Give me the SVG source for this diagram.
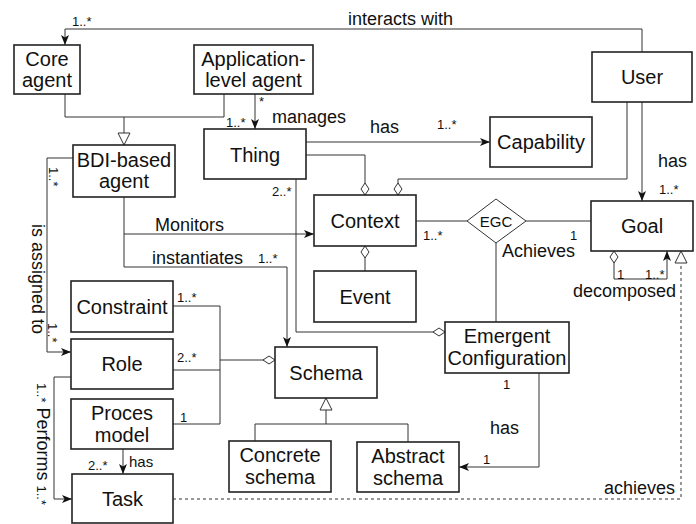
<svg xmlns="http://www.w3.org/2000/svg" width="696" height="524" viewBox="0 0 696 524">
  <style>
    text { font-family: "Liberation Sans", Arial, Helvetica, sans-serif; fill: #111; }
    .box { fill: #fff; stroke: #222; stroke-width: 1.6; }
    .nt { font-size: 20px; text-anchor: middle; }
    .lbl { font-size: 18px; }
    .m { font-size: 13px; }
    .ln { fill: none; stroke: #333; stroke-width: 1; }
    .dash { stroke-dasharray: 3 3; }
  </style>
  <defs>
    <marker id="arr" viewBox="0 0 10 8" refX="10" refY="4" markerWidth="10" markerHeight="8" markerUnits="userSpaceOnUse" orient="auto">
      <path d="M0,0 L10,4 L0,8 L2.5,4 Z" fill="#111"/>
    </marker>
    <marker id="dia" viewBox="-1 -1 14 10" refX="12" refY="4" markerWidth="14" markerHeight="10" markerUnits="userSpaceOnUse" orient="auto">
      <path d="M0,4 L6,0 L12,4 L6,8 Z" fill="#fff" stroke="#333" stroke-width="1"/>
    </marker>
    <marker id="diaS" viewBox="-1 -1 14 10" refX="0" refY="4" markerWidth="14" markerHeight="10" markerUnits="userSpaceOnUse" orient="auto">
      <path d="M0,4 L6,0 L12,4 L6,8 Z" fill="#fff" stroke="#333" stroke-width="1"/>
    </marker>
    <marker id="tri" viewBox="-1 -1 14 14" refX="12" refY="6" markerWidth="14" markerHeight="14" markerUnits="userSpaceOnUse" orient="auto">
      <path d="M0,0 L12,6 L0,12 Z" fill="#fff" stroke="#333" stroke-width="1"/>
    </marker>
  </defs>

  <!-- connectors -->
  <g id="connectors">
    <!-- User interacts with Core agent -->
    <path class="ln" d="M642,52 V29 H65 V45" marker-end="url(#arr)"/>
    <text class="lbl" x="348" y="25">interacts with</text>
    <text class="m" x="72" y="26">1..*</text>

    <!-- agents specialise BDI-based agent -->
    <path class="ln" d="M65,94 V117 H224 V94"/>
    <path class="ln" d="M124,117 V145" marker-end="url(#tri)"/>

    <!-- manages -->
    <path class="ln" d="M255,94 V129" marker-end="url(#arr)"/>
    <text class="m" x="259" y="106">*</text>
    <text class="m" x="226" y="127">1..*</text>
    <text class="lbl" x="272" y="123">manages</text>

    <!-- Thing has Capability -->
    <path class="ln" d="M306,142 H490" marker-end="url(#arr)"/>
    <text class="lbl" x="370" y="133">has</text>
    <text class="m" x="437" y="129">1..*</text>

    <!-- Thing / User aggregated into Context -->
    <path class="ln" d="M306,155 H365 V195" marker-end="url(#dia)"/>
    <path class="ln" d="M627,102 V179 H398 V195" marker-end="url(#dia)"/>

    <!-- User has Goal -->
    <path class="ln" d="M642,102 V201" marker-end="url(#arr)"/>
    <text class="lbl" x="658" y="167">has</text>
    <text class="m" x="659" y="194">1..*</text>

    <!-- BDI monitors Context / instantiates Schema -->
    <path class="ln" d="M124,197 V234 H314" marker-end="url(#arr)"/>
    <text class="lbl" x="155" y="231">Monitors</text>
    <path class="ln" d="M124,234 V267 H287 V347" marker-end="url(#arr)"/>
    <text class="lbl" x="152" y="264">instantiates</text>
    <text class="m" x="258" y="263">1..*</text>

    <!-- Thing aggregated into Emergent Configuration -->
    <path class="ln" d="M296,179 V332 H445" marker-end="url(#dia)"/>
    <text class="m" x="272" y="196">2..*</text>

    <!-- EGC association -->
    <path class="ln" d="M416,221 H467"/>
    <path class="ln" d="M526,221 H591"/>
    <path class="ln" d="M496,243 V322"/>
    <text class="m" x="423" y="240">1..*</text>
    <text class="m" x="570" y="240">1</text>
    <text class="lbl" x="502" y="257">Achieves</text>

    <!-- Event aggregated into Context -->
    <path class="ln" d="M365,271 V246" marker-end="url(#dia)"/>

    <!-- Goal decomposed -->
    <path class="ln" d="M614,251 V279 H667 V251" marker-start="url(#diaS)" marker-end="url(#arr)"/>
    <text class="m" x="617" y="279">1</text>
    <text class="m" x="645" y="279">1..*</text>
    <text class="lbl" x="573" y="297">decomposed</text>

    <!-- Task achieves Goal -->
    <path class="ln dash" d="M173,499 H681 V251" marker-end="url(#tri)"/>
    <text class="lbl" x="604" y="494">achieves</text>

    <!-- BDI is assigned to Role -->
    <path class="ln" d="M73,158 H47 V352 H71" marker-end="url(#arr)"/>
    <text class="lbl" text-anchor="middle" transform="translate(32,279) rotate(90)">is assigned to</text>
    <text class="m" transform="translate(49,167) rotate(90)">1..*</text>
    <text class="m" transform="translate(48,323) rotate(90)">1..*</text>

    <!-- Role performs Task -->
    <path class="ln" d="M71,377 H54 V499 H72" marker-end="url(#arr)"/>
    <text transform="translate(37,383) rotate(90)"><tspan class="m">1..*</tspan><tspan class="lbl"> Performs </tspan><tspan class="m">1..*</tspan></text>

    <!-- Proces model has Task -->
    <path class="ln" d="M123,449 V474" marker-end="url(#arr)"/>
    <text class="m" x="88" y="470">2..*</text>
    <text x="129" y="467" font-size="15">has</text>

    <!-- Constraint / Role / Proces model aggregated into Schema -->
    <path class="ln" d="M173,306 H220 V424 H173"/>
    <path class="ln" d="M173,370 H220"/>
    <path class="ln" d="M220,360 H275" marker-end="url(#dia)"/>
    <text class="m" x="177" y="302">1..*</text>
    <text class="m" x="177" y="362">2..*</text>
    <text class="m" x="180" y="422">1</text>

    <!-- Emergent Configuration has Abstract schema -->
    <path class="ln" d="M539,373 V467 H459" marker-end="url(#arr)"/>
    <text class="m" x="503" y="389">1</text>
    <text class="lbl" x="490" y="434">has</text>
    <text class="m" x="483" y="464">1</text>

    <!-- Schema specialisations -->
    <path class="ln" d="M255,441 V424 H408 V442"/>
    <path class="ln" d="M326,424 V398" marker-end="url(#tri)"/>
  </g>

  <!-- nodes -->
  <g id="core-agent">
    <rect class="box" x="14" y="45" width="66" height="49"/>
    <text class="nt" x="47" y="66">Core</text>
    <text class="nt" x="47" y="87">agent</text>
  </g>
  <g id="application-agent">
    <rect class="box" x="194" y="45" width="119" height="49"/>
    <text class="nt" x="253.5" y="66">Application-</text>
    <text class="nt" x="253.5" y="87">level agent</text>
  </g>
  <g id="user">
    <rect class="box" x="592" y="52" width="100" height="50"/>
    <text class="nt" x="642" y="84">User</text>
  </g>
  <g id="bdi-agent">
    <rect class="box" x="73" y="145" width="102" height="52"/>
    <text class="nt" x="124" y="167">BDI-based</text>
    <text class="nt" x="124" y="188">agent</text>
  </g>
  <g id="thing">
    <rect class="box" x="204" y="129" width="102" height="50"/>
    <text class="nt" x="255" y="161.5">Thing</text>
  </g>
  <g id="capability">
    <rect class="box" x="490" y="117" width="102" height="50"/>
    <text class="nt" x="541" y="149">Capability</text>
  </g>
  <g id="context">
    <rect class="box" x="314" y="195" width="102" height="51"/>
    <text class="nt" x="365" y="228">Context</text>
  </g>
  <g id="egc">
    <polygon points="467,221 496,199 526,221 496,243" fill="#fff" stroke="#333" stroke-width="1"/>
    <text x="496" y="226.5" font-size="15" text-anchor="middle">EGC</text>
  </g>
  <g id="goal">
    <rect class="box" x="591" y="201" width="102" height="50"/>
    <text class="nt" x="642" y="233">Goal</text>
  </g>
  <g id="event">
    <rect class="box" x="314" y="271" width="102" height="51"/>
    <text class="nt" x="365" y="304">Event</text>
  </g>
  <g id="emergent-configuration">
    <rect class="box" x="445" y="322" width="124" height="51"/>
    <text class="nt" x="507" y="343">Emergent</text>
    <text class="nt" x="507" y="364.5">Configuration</text>
  </g>
  <g id="constraint">
    <rect class="box" x="71" y="281" width="102" height="51"/>
    <text class="nt" x="122" y="313.5">Constraint</text>
  </g>
  <g id="role">
    <rect class="box" x="71" y="339" width="102" height="50"/>
    <text class="nt" x="122" y="371">Role</text>
  </g>
  <g id="proces-model">
    <rect class="box" x="71" y="399" width="102" height="50"/>
    <text class="nt" x="122" y="420">Proces</text>
    <text class="nt" x="122" y="441.5">model</text>
  </g>
  <g id="task">
    <rect class="box" x="72" y="474" width="101" height="49"/>
    <text class="nt" x="122.5" y="506">Task</text>
  </g>
  <g id="schema">
    <rect class="box" x="275" y="347" width="102" height="51"/>
    <text class="nt" x="326" y="380">Schema</text>
  </g>
  <g id="concrete-schema">
    <rect class="box" x="229" y="441" width="102" height="51"/>
    <text class="nt" x="280" y="462">Concrete</text>
    <text class="nt" x="280" y="483.5">schema</text>
  </g>
  <g id="abstract-schema">
    <rect class="box" x="357" y="442" width="102" height="50"/>
    <text class="nt" x="408" y="463">Abstract</text>
    <text class="nt" x="408" y="484.5">schema</text>
  </g>
</svg>
